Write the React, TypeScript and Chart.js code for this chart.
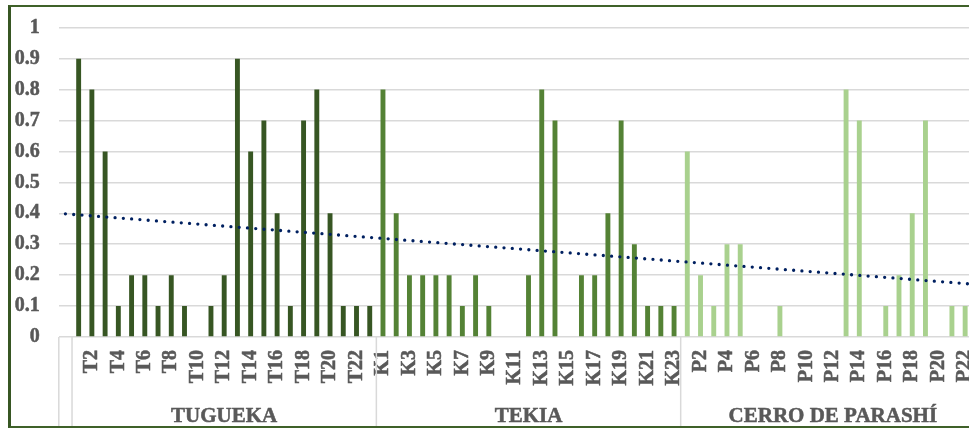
import React, { useEffect, useRef } from 'react';
import { Chart, registerables } from 'chart.js';

Chart.register(...registerables);

// ---- Data ----
const tuguekaLabels = ['T1', 'T2', 'T3', 'T4', 'T5', 'T6', 'T7', 'T8', 'T9', 'T10', 'T11', 'T12', 'T13', 'T14', 'T15', 'T16', 'T17', 'T18', 'T19', 'T20', 'T21', 'T22', 'T23'];
const tuguekaValues = [0.9, 0.8, 0.6, 0.1, 0.2, 0.2, 0.1, 0.2, 0.1, 0, 0.1, 0.2, 0.9, 0.6, 0.7, 0.4, 0.1, 0.7, 0.8, 0.4, 0.1, 0.1, 0.1];

const tekiaLabels = ['K1', 'K2', 'K3', 'K4', 'K5', 'K6', 'K7', 'K8', 'K9', 'K10', 'K11', 'K12', 'K13', 'K14', 'K15', 'K16', 'K17', 'K18', 'K19', 'K20', 'K21', 'K22', 'K23'];
const tekiaValues = [0.8, 0.4, 0.2, 0.2, 0.2, 0.2, 0.1, 0.2, 0.1, 0, 0, 0.2, 0.8, 0.7, 0, 0.2, 0.2, 0.4, 0.7, 0.3, 0.1, 0.1, 0.1];

const parashiLabels = ['P1', 'P2', 'P3', 'P4', 'P5', 'P6', 'P7', 'P8', 'P9', 'P10', 'P11', 'P12', 'P13', 'P14', 'P15', 'P16', 'P17', 'P18', 'P19', 'P20', 'P21', 'P22', 'P23'];
const parashiValues: (number | null)[] = [0.6, 0.2, 0.1, 0.3, 0.3, 0, 0, 0.1, 0, 0, 0, 0, 0.8, 0.7, 0, 0.1, 0.2, 0.4, 0.7, 0, 0.1, 0.1, null];

const groupNames = ['', 'TUGUEKA', 'TEKIA', 'CERRO DE PARASHÍ'];
const groupColors = ['#375623', '#375623', '#548235', '#A9D18E'];

const yTickValues = [0, 0.1, 0.2, 0.3, 0.4, 0.5, 0.6, 0.7, 0.8, 0.9, 1];
const yTickLabels = ['0', '0.1', '0.2', '0.3', '0.4', '0.5', '0.6', '0.7', '0.8', '0.9', '1'];

// ---- Derived tables ----
const groupLabelLists = [[''], tuguekaLabels, tekiaLabels, parashiLabels];
const groupValueLists: (number | null)[][] = [[null], tuguekaValues, tekiaValues, parashiValues];

const allLabels: string[] = groupLabelLists.flat();
const allValues: (number | null)[] = groupValueLists.flat();
const allColors: string[] = groupValueLists.flatMap((vals, gi) => vals.map(() => groupColors[gi]));
const groupCounts = groupLabelLists.map((l) => l.length);

// Linear trendline (least squares on category index)
function trendValues(values: (number | null)[]): number[] {
  let n = 0, sx = 0, sy = 0, sxx = 0, sxy = 0;
  values.forEach((v, i) => {
    if (v === null || v === undefined) return;
    n++; sx += i; sy += v; sxx += i * i; sxy += i * v;
  });
  const slope = (n * sxy - sx * sy) / (n * sxx - sx * sx);
  const intercept = (sy - slope * sx) / n;
  return values.map((_, i) => intercept + slope * i);
}
const trend = trendValues(allValues);

const FONT = "'Liberation Serif', 'Times New Roman', serif";
const TEXT = '#595959';
const LINE = '#d9d9d9';

const groupAxisPlugin = {
  id: 'groupAxis',
  afterDraw(chart: any) {
    const { ctx, chartArea } = chart;
    const x = chart.scales.x;
    const n = allLabels.length;
    const w = (x.right - x.left) / n;
    const bottom = chart.height;
    ctx.save();
    ctx.strokeStyle = LINE;
    ctx.lineWidth = 1.5;
    let start = 0;
    groupCounts.forEach((count, gi) => {
      const x0 = x.left + start * w;
      const x1 = x.left + (start + count) * w;
      ctx.strokeStyle = LINE;
      ctx.lineWidth = 1.5;
      ctx.beginPath();
      ctx.moveTo(x0, chartArea.bottom);
      ctx.lineTo(x0, bottom);
      ctx.stroke();
      if (groupNames[gi]) {
        ctx.font = `bold 21px ${FONT}`;
        ctx.textAlign = 'center';
        ctx.textBaseline = 'middle';
        ctx.fillStyle = TEXT;
        ctx.strokeStyle = TEXT;
        ctx.lineWidth = 0.5;
        const cx = (x0 + x1) / 2;
        const cy = chartArea.bottom + 80;
        ctx.fillText(groupNames[gi], cx, cy);
        ctx.strokeText(groupNames[gi], cx, cy);
      }
      start += count;
    });
    ctx.strokeStyle = LINE;
    ctx.lineWidth = 1.5;
    ctx.beginPath();
    ctx.moveTo(x.right, chartArea.bottom);
    ctx.lineTo(x.right, bottom);
    ctx.stroke();
    ctx.restore();
  },
};

export default function App() {
  const ref = useRef<HTMLCanvasElement>(null);
  useEffect(() => {
    if (!ref.current) return;
    const chart = new Chart(ref.current, {
      type: 'bar',
      data: {
        labels: allLabels,
        datasets: [
          {
            type: 'line',
            data: trend,
            borderColor: '#002060',
            borderWidth: 3.3,
            borderDash: [0, 8.3],
            borderCapStyle: 'round',
            pointRadius: 0,
            fill: false,
            order: 0,
          } as any,
          {
            type: 'bar',
            data: allValues,
            backgroundColor: allColors,
            barPercentage: 0.37,
            categoryPercentage: 1,
            order: 1,
          } as any,
        ],
      },
      options: {
        responsive: false,
        animation: false,
        layout: { padding: { top: 20.7, right: 10, left: 0, bottom: 0 } },
        plugins: { legend: { display: false }, tooltip: { enabled: false } },
        scales: {
          x: {
            offset: true,
            grid: { display: false, drawTicks: false },
            border: { display: false },
            afterFit: (s: any) => {
              s.height = 89;
              s.paddingLeft = 0;
              s.paddingRight = 0;
            },
            ticks: {
              autoSkip: false,
              maxRotation: 90,
              minRotation: 90,
              padding: 13,
              color: TEXT,
              textStrokeColor: TEXT,
              textStrokeWidth: 0.5,
              font: { family: FONT, weight: 'bold', size: 20 },
              callback: (_v: any, i: number) => (i > 0 && i % 2 === 0 ? allLabels[i] : ''),
            },
          },
          y: {
            min: 0,
            max: 1,
            afterBuildTicks: (s: any) => { s.ticks = yTickValues.map((v) => ({ value: v })); },
            afterFit: (s: any) => {
              s.width = 47.8;
              s.paddingTop = 0;
              s.paddingBottom = 0;
            },
            grid: { color: LINE, lineWidth: 1.5, drawTicks: false },
            border: { display: false },
            ticks: {
              padding: 19,
              color: TEXT,
              textStrokeColor: TEXT,
              textStrokeWidth: 0.5,
              font: { family: FONT, weight: 'bold', size: 20 },
              callback: (_v: any, i: number) => yTickLabels[i],
            },
          },
        },
      },
      plugins: [groupAxisPlugin],
    });
    return () => chart.destroy();
  }, []);

  return (
    <div style={{ position: 'fixed', left: 0, top: 0, width: 969, height: 428, overflow: 'hidden', background: '#fff' }}>
      <div
        style={{
          position: 'absolute',
          left: 8,
          top: 5,
          width: 990,
          height: 423,
          boxSizing: 'border-box',
          borderLeft: '3px solid #375623',
          borderRight: '3px solid #375623',
          borderTop: '2px solid #3f6129',
          borderBottom: '2px solid #3f6129',
        }}
      >
        <canvas ref={ref} width={984} height={419} style={{ display: 'block', width: 984, height: 419 }} />
      </div>
    </div>
  );
}
